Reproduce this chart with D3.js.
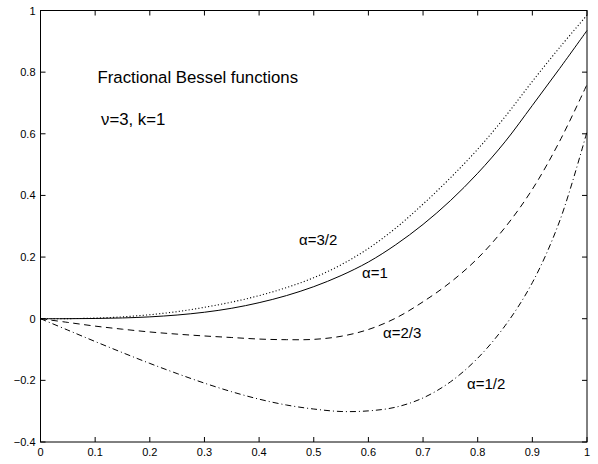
<!DOCTYPE html>
<html><head><meta charset="utf-8">
<script src="https://cdn.jsdelivr.net/npm/d3@7"></script>
<style>body{margin:0;background:#fff;} svg{display:block;font-family:"Liberation Sans",Arial,sans-serif;}</style>
</head><body>
<svg id="c" width="598" height="464"></svg>
<script>
const xs = [0,0.05,0.1,0.15,0.2,0.25,0.3,0.35,0.4,0.45,0.5,0.55,0.6,0.65,0.7,0.75,0.8,0.85,0.9,0.95,1.0];
const alpha32 = [0,0.0003,0.002,0.006,0.013,0.023,0.037,0.054,0.075,0.101,0.133,0.175,0.228,0.294,0.372,0.457,0.55,0.655,0.77,0.88,0.985];
const alpha1  = [0,0.0001,0.0007,0.0025,0.006,0.012,0.021,0.034,0.052,0.075,0.104,0.14,0.184,0.240,0.306,0.383,0.472,0.574,0.692,0.812,0.935];
const alpha23 = [0,-0.012,-0.024,-0.034,-0.043,-0.05,-0.056,-0.061,-0.066,-0.068,-0.067,-0.057,-0.035,0.002,0.055,0.118,0.196,0.296,0.42,0.576,0.76];
const alpha12 = [0,-0.037,-0.074,-0.11,-0.145,-0.178,-0.209,-0.237,-0.261,-0.28,-0.293,-0.301,-0.299,-0.287,-0.257,-0.205,-0.128,-0.023,0.117,0.317,0.607];
const xTicks = [0,0.1,0.2,0.3,0.4,0.5,0.6,0.7,0.8,0.9,1];
const xTickLabels = ["0","0.1","0.2","0.3","0.4","0.5","0.6","0.7","0.8","0.9","1"];
const yTicks = [-0.4,-0.2,0,0.2,0.4,0.6,0.8,1];
const yTickLabels = ["\u22120.4","\u22120.2","0","0.2","0.4","0.6","0.8","1"];
const seriesNames = ["α=3/2","α=1","α=2/3","α=1/2"];

const L=40.5,R=587,T=10.5,B=442;
const x=d3.scaleLinear().domain([0,1]).range([L,R]);
const y=d3.scaleLinear().domain([-0.4,1]).range([B,T]);
const svg=d3.select("#c");

const series=[
 {v:alpha32,dash:"1.1,2.2",w:1.1,lab:seriesNames[0],lx:299,ly:245},
 {v:alpha1,dash:null,w:1,lab:seriesNames[1],lx:362,ly:278},
 {v:alpha23,dash:"6.5,4.5",w:1,lab:seriesNames[2],lx:383,ly:338},
 {v:alpha12,dash:"6,3,1,3",w:1,lab:seriesNames[3],lx:467,ly:389}
];
const line=d3.line().x((d,i)=>x(xs[i])).y(d=>y(d)).curve(d3.curveCatmullRom.alpha(0.5));
series.forEach(s=>{
  svg.append("path").attr("d",line(s.v)).attr("fill","none").attr("stroke","#000")
    .attr("stroke-width",s.w).attr("stroke-dasharray",s.dash);
  svg.append("text").attr("x",s.lx).attr("y",s.ly).attr("font-size",15).text(s.lab);
});

// frame
svg.append("rect").attr("x",L).attr("y",T).attr("width",R-L).attr("height",B-T)
  .attr("fill","none").attr("stroke","#000").attr("stroke-width",1);
const tl=5;
xTicks.forEach((t,i)=>{
  const px=x(t);
  svg.append("line").attr("x1",px).attr("x2",px).attr("y1",B).attr("y2",B-tl).attr("stroke","#000");
  svg.append("line").attr("x1",px).attr("x2",px).attr("y1",T).attr("y2",T+tl).attr("stroke","#000");
  svg.append("text").attr("x",px).attr("y",B+14).attr("text-anchor","middle").attr("font-size",11).text(xTickLabels[i]);
});
yTicks.forEach((t,i)=>{
  const py=y(t);
  svg.append("line").attr("x1",L).attr("x2",L+tl).attr("y1",py).attr("y2",py).attr("stroke","#000");
  svg.append("line").attr("x1",R).attr("x2",R-tl).attr("y1",py).attr("y2",py).attr("stroke","#000");
  svg.append("text").attr("x",L-5).attr("y",py+4).attr("text-anchor","end").attr("font-size",11).text(yTickLabels[i]);
});
svg.append("text").attr("x",97.5).attr("y",82.7).attr("font-size",16.8).text("Fractional Bessel functions");
svg.append("text").attr("x",101).attr("y",125).attr("font-size",16.8).text("ν=3, k=1");
</script>
</body></html>
